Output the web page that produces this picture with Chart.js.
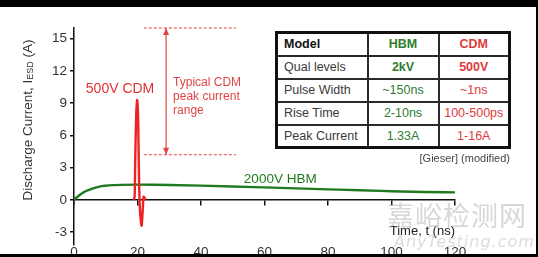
<!DOCTYPE html>
<html>
<head>
<meta charset="utf-8">
<script src="https://cdn.jsdelivr.net/npm/chart.js@4/dist/chart.umd.min.js"></script>
<style>
  html, body { margin: 0; padding: 0; background: #fff; }
  body { width: 538px; height: 257px; position: relative; overflow: hidden; font-family: "Liberation Sans", Arial, sans-serif; }
  canvas { position: absolute; left: 0; top: 0; }
  .band { position: absolute; background: #000; }
  table { position: absolute; left: 275px; top: 31px; width: 233px; table-layout: fixed; border-collapse: collapse; border: 3px solid #111; font-size: 12.5px; background: #fff; }
  tr { height: 23px; }
  td { border: 2px solid #2a2a2a; padding: 0 0 0 6px; color: #3a3a3a; white-space: nowrap; overflow: hidden; }
  td.c { text-align: center; padding: 0; }
  td.g { color: #2f7d2f; }
  td.r { color: #de3b3b; }
  .b { font-weight: bold; }
  #src { position: absolute; right: 28px; top: 152px; font-size: 11px; color: #444; }
  #wm1 { position: absolute; left: 387px; top: 195px; font-family: "Noto Sans CJK SC", sans-serif; font-size: 27px; color: rgba(175,175,175,0.5); letter-spacing: 1px; }
  #wm2 { position: absolute; left: 394px; top: 232px; font-family: "DejaVu Sans", sans-serif; font-style: italic; font-size: 16px; color: rgba(185,185,185,0.5); letter-spacing: 1px; }
</style>
</head>
<body>
<canvas id="esd" width="538" height="257"></canvas>

<table>
  <colgroup><col style="width:91px"><col style="width:71px"><col style="width:71px"></colgroup>
  <tr><td class="b" style="color:#111">Model</td><td class="c g b">HBM</td><td class="c r b">CDM</td></tr>
  <tr><td>Qual levels</td><td class="c g b">2kV</td><td class="c r b">500V</td></tr>
  <tr><td>Pulse Width</td><td class="c g">~150ns</td><td class="c r">~1ns</td></tr>
  <tr><td>Rise Time</td><td class="c g">2-10ns</td><td class="c r">100-500ps</td></tr>
  <tr><td>Peak Current</td><td class="c g">1.33A</td><td class="c r">1-16A</td></tr>
</table>
<div id="src">[Gieser] (modified)</div>
<div id="wm1">嘉峪检测网</div>
<div id="wm2">AnyTesting.com</div>

<div class="band" style="left:0;top:0;width:538px;height:7px"></div>
<div class="band" style="left:0;top:254px;width:538px;height:3px"></div>
<div class="band" style="left:536px;top:0;width:2px;height:257px"></div>

<script>
// ---------- Data ----------
const xTicks = [0, 20, 40, 60, 80, 100, 120];
const yTicks = [15, 12, 9, 6, 3, 0, -3];

// 2000V HBM waveform (ns, A)
const hbmTime    = [0, 1, 2, 3, 4, 5, 6, 8, 10, 12, 15, 20, 25, 30, 40, 50, 60, 70, 80, 90, 100, 110, 120];
const hbmCurrent = [0, 0.27, 0.5, 0.7, 0.85, 0.96, 1.07, 1.24, 1.32, 1.37, 1.4, 1.42, 1.41, 1.39, 1.33, 1.25, 1.16, 1.07, 0.98, 0.89, 0.81, 0.73, 0.7];

// 500V CDM waveform (ns, A)
const cdmTime    = [18.8, 19.1, 19.3, 19.6, 19.9, 20.2, 20.45, 20.7, 21.0, 21.3, 21.6, 21.9, 22.2, 22.5];
const cdmCurrent = [0, 0.3, 4.0, 8.0, 9.3, 7.5, 2.5, -0.5, -1.8, -2.4, -1.2, 0.3, 0.2, 0];

// Typical CDM peak current range marker
const rangeLow = 4.2;
const rangeHigh = 16;
const rangeFrom = 22;
const rangeTo = 51;
const rangeArrowAt = 29;

const RED = "#ee2222";
const NOTE_RED = "#e04545";
const GREEN = "#1f7a1f";
const TEXT = "#333";

const toPoints = (xs, ys) => xs.map((t, i) => ({ x: t, y: ys[i] }));

// ---------- Text + arrowheads ----------
const notes = {
    id: "notes",
    afterDatasetsDraw(chart) {
        const { ctx, chartArea, scales: { x, y } } = chart;
        ctx.save();

        // curve labels
        ctx.textBaseline = "middle";
        ctx.font = "14px 'Liberation Sans', Arial";
        ctx.fillStyle = "#e63030";
        ctx.textAlign = "center";
        ctx.fillText("500V CDM", x.getPixelForValue(14.5), y.getPixelForValue(10.3));

        ctx.font = "13.5px 'Liberation Sans', Arial";
        ctx.fillStyle = GREEN;
        ctx.textAlign = "left";
        ctx.fillText("2000V HBM", x.getPixelForValue(53.5), y.getPixelForValue(1.95));

        // range note
        ctx.font = "12px 'Liberation Sans', Arial";
        ctx.fillStyle = NOTE_RED;
        const nx = x.getPixelForValue(31.2);
        const ny = y.getPixelForValue(10.9);
        ["Typical CDM", "peak current", "range"].forEach((s, i) => ctx.fillText(s, nx, ny + i * 14));

        // arrowheads on the range marker
        const ax = x.getPixelForValue(rangeArrowAt);
        const top = y.getPixelForValue(rangeHigh);
        const bot = y.getPixelForValue(rangeLow);
        ctx.fillStyle = NOTE_RED;
        ctx.beginPath();
        ctx.moveTo(ax, top); ctx.lineTo(ax - 3, top + 7); ctx.lineTo(ax + 3, top + 7); ctx.closePath();
        ctx.moveTo(ax, bot); ctx.lineTo(ax - 3, bot - 7); ctx.lineTo(ax + 3, bot - 7); ctx.closePath();
        ctx.fill();

        // x title
        ctx.font = "13px 'Liberation Sans', Arial";
        ctx.fillStyle = "#222";
        ctx.textAlign = "right";
        ctx.fillText("Time, t (ns)", chartArea.right, y.getPixelForValue(-2.9));

        // y title with subscript
        ctx.translate(28, 120);
        ctx.rotate(-Math.PI / 2);
        ctx.fillStyle = TEXT;
        const parts = [["Discharge Current, I", 13.5, 0], ["ESD", 9, 3], [" (A)", 13.5, 0]];
        let w = 0;
        parts.forEach(p => { ctx.font = p[1] + "px 'Liberation Sans', Arial"; w += ctx.measureText(p[0]).width; });
        let px = -w / 2;
        ctx.textAlign = "left";
        parts.forEach(p => {
            ctx.font = p[1] + "px 'Liberation Sans', Arial";
            ctx.fillText(p[0], px, p[2]);
            px += ctx.measureText(p[0]).width;
        });
        ctx.restore();
    }
};

// ---------- Chart ----------
const markerLine = (pts, dash) => ({
    data: pts,
    borderColor: NOTE_RED,
    borderWidth: 1.2,
    borderDash: dash,
    pointRadius: 0,
    clip: false,
    order: 2
});

new Chart(document.getElementById("esd"), {
    type: "line",
    data: {
        datasets: [
            { data: toPoints(cdmTime, cdmCurrent), borderColor: RED, borderWidth: 2.4, pointRadius: 0, tension: 0.25, order: 0 },
            { data: toPoints(hbmTime, hbmCurrent), borderColor: GREEN, borderWidth: 2.4, pointRadius: 0, cubicInterpolationMode: "monotone", order: 1 },
            markerLine([{ x: rangeFrom, y: rangeHigh }, { x: rangeTo, y: rangeHigh }], [3, 2]),
            markerLine([{ x: rangeFrom, y: rangeLow }, { x: rangeTo, y: rangeLow }], [3, 2]),
            markerLine([{ x: rangeArrowAt, y: rangeLow }, { x: rangeArrowAt, y: rangeHigh }], [])
        ]
    },
    options: {
        responsive: false,
        animation: false,
        events: [],
        layout: { padding: { left: 0, right: 83, top: 28, bottom: 0 } },
        plugins: { legend: { display: false }, tooltip: { enabled: false } },
        scales: {
            x: {
                type: "linear",
                min: 0, max: 120,
                position: { y: 0 },
                afterBuildTicks: s => { s.ticks = xTicks.map(v => ({ value: v })); },
                ticks: { display: false },
                grid: { drawOnChartArea: false, drawTicks: true, tickLength: 5, color: "#111", lineWidth: 1.5 },
                border: { color: "#111", width: 1.5 }
            },
            xb: {
                type: "linear",
                min: 0, max: 120,
                position: "bottom",
                afterBuildTicks: s => { s.ticks = xTicks.map(v => ({ value: v })); },
                afterFit: s => { s.height = 12; },
                ticks: { color: TEXT, font: { family: "'Liberation Sans', Arial", size: 13.5 }, padding: -1, maxRotation: 0, autoSkip: false },
                grid: { display: false, drawTicks: false, tickLength: 0 },
                border: { display: false }
            },
            y: {
                type: "linear",
                min: -4.2, max: rangeHigh,
                afterBuildTicks: s => { s.ticks = yTicks.map(v => ({ value: v })); },
                afterFit: s => { s.width = 74; },
                ticks: { color: TEXT, font: { family: "'Liberation Sans', Arial", size: 13.5 }, padding: 3 },
                grid: { drawOnChartArea: false, drawTicks: true, tickLength: 4, color: "#111", lineWidth: 1.5 },
                border: { color: "#111", width: 1.5 }
            }
        }
    },
    plugins: [notes]
});
</script>
</body>
</html>
